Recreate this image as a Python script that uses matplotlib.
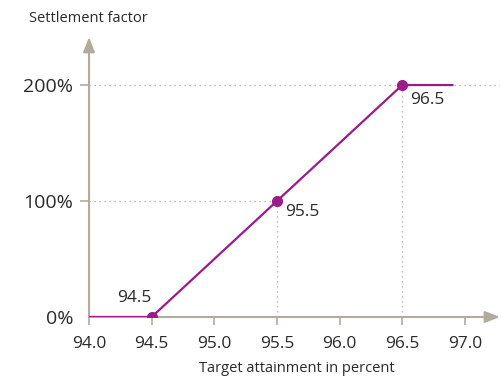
import matplotlib.pyplot as plt

plt.rcParams['font.family'] = ['Open Sans', 'DejaVu Sans']

# data
x_line = [94.0, 94.5, 95.5, 96.5, 96.9]
y_line = [0, 0, 100, 200, 200]
key_x = [94.5, 95.5, 96.5]
key_y = [0, 100, 200]
key_labels = ['94.5', '95.5', '96.5']
x_ticks = [94.0, 94.5, 95.0, 95.5, 96.0, 96.5, 97.0]
y_ticks = [0, 100, 200]
y_ticklabels = ['0%', '100%', '200%']

purple = '#9b1b8a'
axis_col = '#b3aa9e'
grid_col = '#a8a8a0'
text_col = '#2a2a2a'

fig = plt.figure(figsize=(5.02, 3.79), dpi=100)
ax = fig.add_axes([89 / 502, 62 / 379, 411 / 502, 280 / 379])
ax.set_xlim(94.0, 97.28)
ax.set_ylim(0, 241.4)

for s in ax.spines.values():
    s.set_visible(False)

# axes with arrows
arrow = dict(arrowstyle='-|>,head_length=0.9,head_width=0.35',
             color=axis_col, lw=1.5, shrinkA=0, shrinkB=0)
ax.annotate('', xy=(97.28, 0), xytext=(94.0, 0), arrowprops=arrow,
            annotation_clip=False)
ax.annotate('', xy=(94.0, 241.4), xytext=(94.0, 0), arrowprops=arrow,
            annotation_clip=False)

# dotted guides
dots = dict(color=grid_col, lw=0.9, ls=(0, (1, 3)), zorder=1)
ax.plot([94.0, 97.28], [200, 200], **dots)
ax.plot([94.0, 95.5], [100, 100], **dots)
ax.plot([95.5, 95.5], [0, 100], **dots)
ax.plot([96.5, 96.5], [0, 200], **dots)

ax.plot(x_line, y_line, color=purple, lw=1.6, zorder=3)
ax.plot(key_x, key_y, 'o', color=purple, ms=7, zorder=4)

# point labels
offsets = [(0, 14), (6, -8), (6, -11)]
aligns = ['right', 'left', 'left']
for x, y, lab, off, ha in zip(key_x, key_y, key_labels, offsets, aligns):
    ax.annotate(lab, (x, y), xytext=off, textcoords='offset points',
                fontsize=12.5, color=text_col, va='center', ha=ha)

ax.set_xticks(x_ticks)
ax.set_xticklabels([f'{v:.1f}' for v in x_ticks])
ax.set_yticks(y_ticks)
ax.set_yticklabels(y_ticklabels)
ax.tick_params(axis='x', length=5.5, width=1.2, color=axis_col, labelsize=12.5,
               labelcolor=text_col, pad=8)
ax.tick_params(axis='y', length=6.5, width=1.2, color=axis_col, labelsize=14,
               labelcolor=text_col, pad=5)
ax.yaxis.get_major_ticks()[0].tick1line.set_visible(False)

fig.text(29 / 502, 1 - 18 / 379, 'Settlement factor', fontsize=10.5,
         color=text_col, va='center', ha='left')
fig.text(297 / 502, 1 - 369 / 379, 'Target attainment in percent', fontsize=10.5,
         color=text_col, va='center', ha='center')

fig.savefig('out.png', dpi=100)
